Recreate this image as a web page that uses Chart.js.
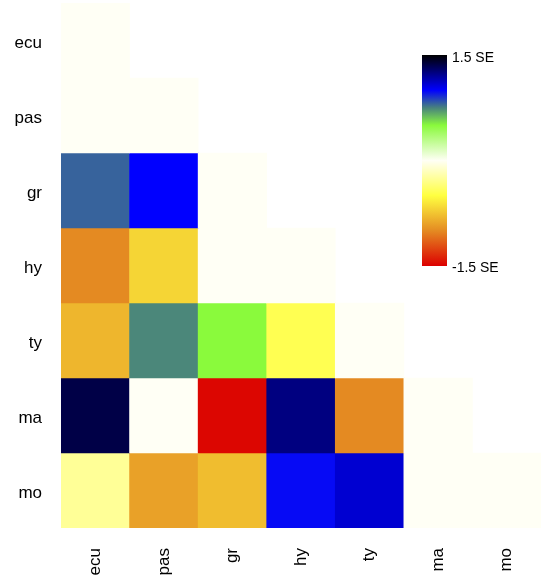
<!DOCTYPE html>
<html>
<head>
<meta charset="utf-8">
<title>Pairwise SE heatmap</title>
<script src="https://cdn.jsdelivr.net/npm/chart.js@4/dist/chart.umd.min.js"></script>
<style>
  html, body { margin: 0; padding: 0; background: #ffffff; }
  #wrap { position: relative; width: 541px; height: 579px; overflow: hidden; }
  #chart { position: absolute; left: 0; top: 0; }
  #colorbar { position: absolute; left: 422px; top: 55px; width: 25px; height: 211px; }
  .cb-label { position: absolute; left: 452px; font: 14px "Liberation Sans", Arial, sans-serif; color: #000; line-height: 16px; white-space: nowrap; }
</style>
</head>
<body>
<div id="wrap">
  <canvas id="chart" width="541" height="579"></canvas>
  <div id="colorbar"></div>
  <div class="cb-label" id="cbTop" style="top:49px;">1.5 SE</div>
  <div class="cb-label" id="cbBottom" style="top:259px;">-1.5 SE</div>
</div>
<script>
// Population labels, used for both axes
const columns = ['ecu', 'pas', 'gr', 'hy', 'ty', 'ma', 'mo'];
const rows = ['ecu', 'pas', 'gr', 'hy', 'ty', 'ma', 'mo'];

// Lower-triangle values (in SE units), one array per row, left to right
const ecu = [0];
const pas = [0, 0];
const gr  = [0.81, 1.00, 0];
const hy  = [-1.00, -0.68, 0, 0];
const ty  = [-0.81, 0.74, 0.50, -0.45, 0];
const ma  = [1.36, 0, -1.48, 1.25, -1.00, 0];
const mo  = [-0.26, -0.90, -0.78, 0.98, 1.09, 0, 0];

// Colour scale limits and stops (value -> rgb)
const scaleMin = -1.5;
const scaleMax = 1.5;
const stopValues = [-1.5, -1.0, -0.5, 0, 0.5, 0.75, 1.0, 1.5];
const stopColors = [
  [220, 0, 0],
  [228, 138, 34],
  [255, 255, 64],
  [255, 255, 245],
  [138, 250, 60],
  [72, 130, 125],
  [0, 0, 255],
  [0, 0, 0]
];

const values = [ecu, pas, gr, hy, ty, ma, mo];

function colorFor(v) {
  const x = Math.max(scaleMin, Math.min(scaleMax, v));
  for (let k = 0; k < stopValues.length - 1; k++) {
    const a = stopValues[k], b = stopValues[k + 1];
    if (x >= a && x <= b) {
      const t = (x - a) / (b - a);
      const c0 = stopColors[k], c1 = stopColors[k + 1];
      const c = c0.map((u, i) => Math.round(u + (c1[i] - u) * t));
      return `rgb(${c[0]},${c[1]},${c[2]})`;
    }
  }
  const c = stopColors[stopColors.length - 1];
  return `rgb(${c[0]},${c[1]},${c[2]})`;
}

// Colour bar: top is the maximum, bottom the minimum
(function buildColorbar() {
  const parts = [];
  for (let k = stopValues.length - 1; k >= 0; k--) {
    const pct = (scaleMax - stopValues[k]) / (scaleMax - scaleMin) * 100;
    const c = stopColors[k];
    parts.push(`rgb(${c[0]},${c[1]},${c[2]}) ${pct.toFixed(2)}%`);
  }
  document.getElementById('colorbar').style.background =
    `linear-gradient(to bottom, ${parts.join(', ')})`;
})();

// One floating-bar dataset per row; each bar spans exactly one row band
const datasets = rows.map((r, i) => ({
  label: r,
  data: columns.map((c, j) => (j < values[i].length ? [i - 0.5, i + 0.5] : null)),
  backgroundColor: columns.map((c, j) => (j < values[i].length ? colorFor(values[i][j]) : 'rgba(0,0,0,0)')),
  borderWidth: 0,
  grouped: false,
  barPercentage: 1.0,
  categoryPercentage: 1.0
}));

const labelFont = { family: '"Liberation Sans", Arial, sans-serif', size: 17 };

// Fixed axis boxes with no extra label overhang padding
function noOverhang(s) {
  s.paddingTop = 0; s.paddingBottom = 0; s.paddingLeft = 0; s.paddingRight = 0;
}

new Chart(document.getElementById('chart'), {
  type: 'bar',
  data: { labels: columns, datasets },
  options: {
    responsive: false,
    animation: false,
    devicePixelRatio: 1,
    layout: { padding: { top: 3, left: 0, right: -1, bottom: 0 } },
    plugins: { legend: { display: false }, tooltip: { enabled: false } },
    scales: {
      x: {
        type: 'category',
        offset: true,
        grid: { display: false, drawTicks: false },
        border: { display: false },
        ticks: {
          color: '#000',
          font: labelFont,
          minRotation: 90,
          maxRotation: 90,
          padding: 20,
          autoSkip: false
        },
        afterFit: s => { s.height = 51; noOverhang(s); }
      },
      y: {
        type: 'linear',
        reverse: true,
        min: -0.5,
        max: 6.5,
        grid: { display: false, drawTicks: false },
        border: { display: false },
        afterBuildTicks: s => { s.ticks = rows.map((r, i) => ({ value: i })); },
        ticks: {
          color: '#000',
          font: labelFont,
          padding: 19,
          labelOffset: 2.5,
          callback: v => rows[v] ?? ''
        },
        afterFit: s => { s.width = 61; noOverhang(s); }
      }
    }
  }
});
</script>
</body>
</html>
